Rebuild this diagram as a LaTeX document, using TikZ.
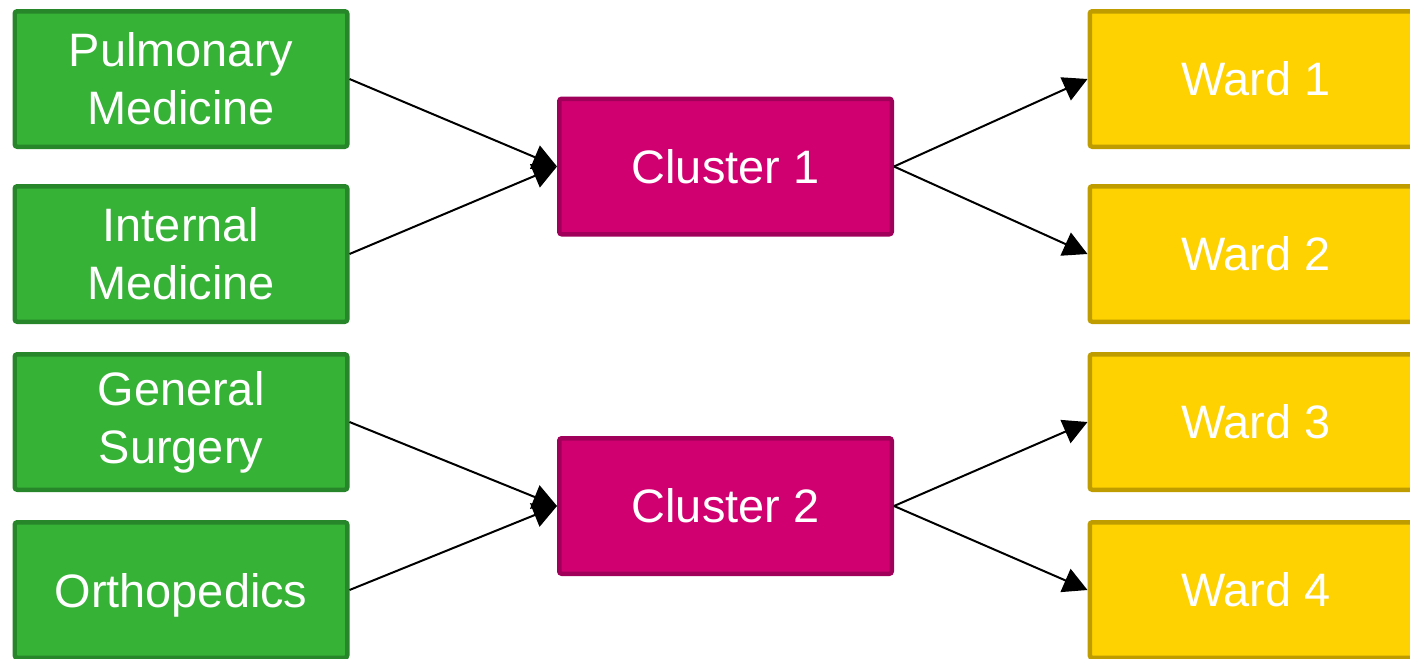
\documentclass[tikz,border=0pt]{standalone}
\usepackage{fontspec}
\setmainfont{Liberation Sans}
\usetikzlibrary{arrows.meta, positioning, calc}

\definecolor{deptgreen}{HTML}{36B236}
\definecolor{deptgreendk}{HTML}{27862A}
\definecolor{clustmag}{HTML}{D10070}
\definecolor{clustmagdk}{HTML}{A0005A}
\definecolor{wardyel}{HTML}{FDD200}
\definecolor{wardyeldk}{HTML}{BF9D00}

\begin{document}
\begin{tikzpicture}[>={Triangle[length=0.48cm, width=0.5cm]},
  box/.style={draw, rounded corners=0.05cm, line width=0.09cm,
              minimum width=6.65cm, minimum height=2.71cm,
              text=white, align=center,
              font=\fontsize{26.7}{33}\selectfont},
  dept/.style={box, fill=deptgreen, draw=deptgreendk},
  clust/.style={box, fill=clustmag, draw=clustmagdk},
  ward/.style={box, fill=wardyel, draw=wardyeldk},
  link/.style={->, line width=0.04cm}]
  \clip (0,0) rectangle (28.2,-13.16);

  % departments on the left
  \node[dept] (pulm) at (3.62,-1.58) {Pulmonary\\Medicine};
  \node[dept, below=0.7cm of pulm] (intern) {Internal\\Medicine};
  \node[dept, below=0.56cm of intern] (gensurg) {General\\Surgery};
  \node[dept, text depth=0pt, below=0.56cm of gensurg] (ortho) {Orthopedics};

  % clusters in the middle
  \coordinate (mid1) at ($(pulm.east)!0.5!(intern.east)$);
  \coordinate (mid2) at ($(gensurg.east)!0.5!(ortho.east)$);
  \node[clust, right=4.15cm of mid1] (clu1) {Cluster 1};
  \node[clust, right=4.15cm of mid2] (clu2) {Cluster 2};

  % wards on the right
  \coordinate (w1) at (clu1.east |- pulm);
  \coordinate (w2) at (clu1.east |- intern);
  \coordinate (w3) at (clu2.east |- gensurg);
  \coordinate (w4) at (clu2.east |- ortho);
  \node[ward, right=3.87cm of w1] (ward1) {Ward 1};
  \node[ward, right=3.87cm of w2] (ward2) {Ward 2};
  \node[ward, right=3.87cm of w3] (ward3) {Ward 3};
  \node[ward, right=3.87cm of w4] (ward4) {Ward 4};

  \draw[link] (pulm.east) -- (clu1.west);
  \draw[link] (intern.east) -- (clu1.west);
  \draw[link] (gensurg.east) -- (clu2.west);
  \draw[link] (ortho.east) -- (clu2.west);

  \draw[link] (clu1.east) -- (ward1.west);
  \draw[link] (clu1.east) -- (ward2.west);
  \draw[link] (clu2.east) -- (ward3.west);
  \draw[link] (clu2.east) -- (ward4.west);
\end{tikzpicture}
\end{document}
